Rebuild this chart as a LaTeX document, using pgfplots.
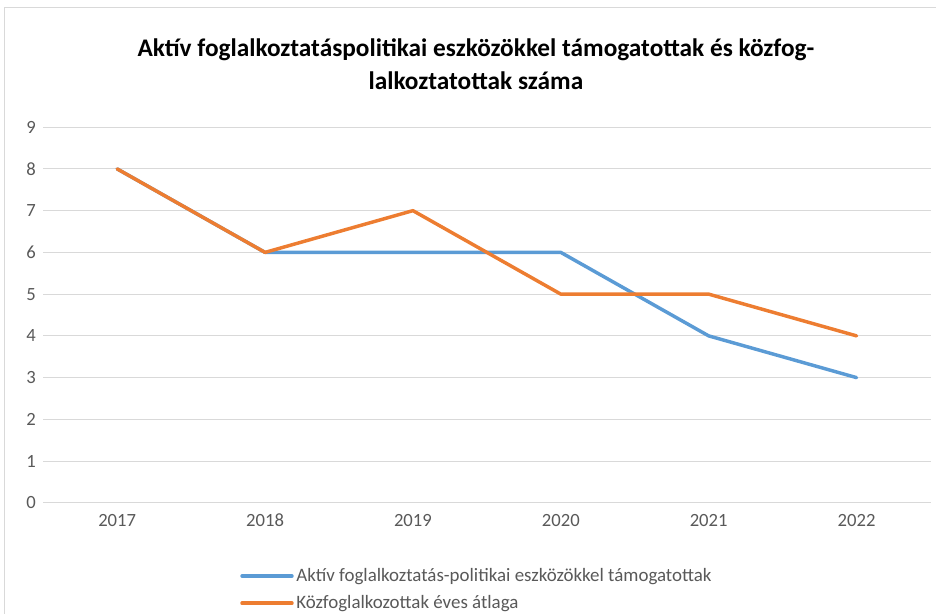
\documentclass[border=0pt]{standalone}
\usepackage{fontspec}
\setmainfont{Carlito}
\usepackage{pgfplots}
\pgfplotsset{compat=1.18}
\definecolor{cblue}{HTML}{5B9BD5}
\definecolor{corange}{HTML}{ED7D31}
\definecolor{cgrid}{HTML}{D9D9D9}
\definecolor{ctext}{HTML}{595959}
\begin{document}
\begin{tikzpicture}[x=0.75pt,y=0.75pt]
\draw[white] (0,0) rectangle (936,614);
\draw[cgrid, line width=0.75pt] (4,0) -- (4,607) -- (936,607);
\node[font=\bfseries\fontsize{19}{25}\selectfont, align=center] at (476,550)
  {Aktív foglalkoztatáspolitikai eszközökkel támogatottak és közfog-\\lalkoztatottak száma};
\begin{axis}[
  at={(32.25pt,83.25pt)}, anchor=south west,
  scale only axis, width=666pt, height=282pt,
  xmin=-0.5, xmax=5.5, ymin=0, ymax=9,
  xtick={0,1,2,3,4,5},
  xticklabels={2017,2018,2019,2020,2021,2022},
  ytick={0,1,...,9},
  axis line style={draw=none},
  ymajorgrids, grid style={cgrid, line width=0.75pt},
  major tick length=0pt,
  tick label style={font=\fontsize{14}{16}\selectfont, text=ctext},
  /pgf/number format/assume math mode=true,
  xticklabel style={yshift=-5pt},
  yticklabel style={xshift=-2pt},
  legend style={at={(0.2218,-0.167)}, anchor=north west, draw=none,
    font=\fontsize{14.2}{17}\selectfont, text=ctext, row sep=5pt,
    inner sep=0pt},
  legend cell align=left,
  legend image code/.code={\draw[#1, line width=2.6pt, line cap=round] (0pt,0pt) -- (37.5pt,0pt);},
]
\addplot[cblue, line width=2.6pt, line join=round, line cap=round] coordinates {(0,8) (1,6) (2,6) (3,6) (4,4) (5,3)};
\addlegendentry{Aktív foglalkoztatás-politikai eszközökkel támogatottak}
\addplot[corange, line width=2.6pt, line join=round, line cap=round] coordinates {(0,8) (1,6) (2,7) (3,5) (4,5) (5,4)};
\addlegendentry{Közfoglalkozottak éves átlaga}
\end{axis}
\end{tikzpicture}
\end{document}
